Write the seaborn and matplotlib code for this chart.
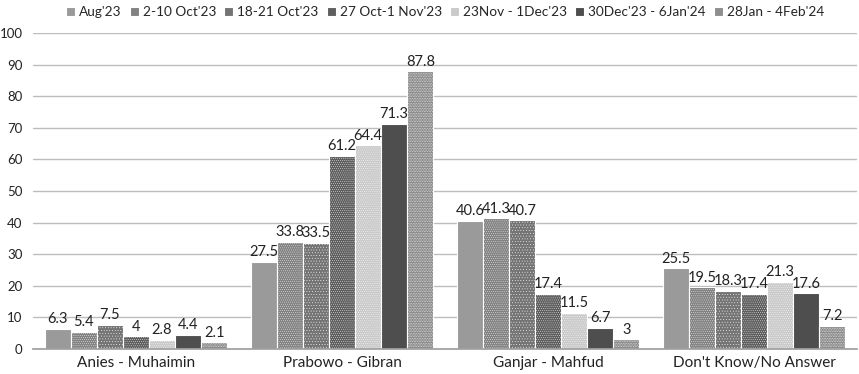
import matplotlib
matplotlib.use("Agg")
import matplotlib.pyplot as plt
import seaborn as sns
import pandas as pd

categories = ["Anies - Muhaimin", "Prabowo - Gibran", "Ganjar - Mahfud", "Don't Know/No Answer"]
periods = ["Aug'23", "2-10 Oct'23", "18-21 Oct'23", "27 Oct-1 Nov'23",
           "23Nov - 1Dec'23", "30Dec'23 - 6Jan'24", "28Jan - 4Feb'24"]
aug23 = [6.3, 27.5, 40.6, 25.5]
oct2_10 = [5.4, 33.8, 41.3, 19.5]
oct18_21 = [7.5, 33.5, 40.7, 18.3]
oct27_nov1 = [4, 61.2, 17.4, 17.4]
nov23_dec1 = [2.8, 64.4, 11.5, 21.3]
dec30_jan6 = [4.4, 71.3, 6.7, 17.6]
jan28_feb4 = [2.1, 87.8, 3, 7.2]
series = [aug23, oct2_10, oct18_21, oct27_nov1, nov23_dec1, dec30_jan6, jan28_feb4]

colors = ["#9a9a9a", "#828282", "#747474", "#5e5e5e", "#cacaca", "#4e4e4e", "#8e8e8e"]
hatches = [None, "........", "......", "........", "........", None, ".........."]

rows = []
for p, vals in zip(periods, series):
    for c, v in zip(categories, vals):
        rows.append({"Candidate": c, "Period": p, "Value": v})
df = pd.DataFrame(rows)

sns.set_theme(style="white")
plt.rcParams["font.family"] = ["Lato", "DejaVu Sans"]
plt.rcParams["hatch.linewidth"] = 0.25

fig, ax = plt.subplots(figsize=(8.59, 3.74), dpi=100)
fig.subplots_adjust(left=0.0384, right=0.998, top=0.912, bottom=0.067)

sns.barplot(data=df, x="Candidate", y="Value", hue="Period", order=categories,
            hue_order=periods, palette=colors, width=0.885, ax=ax,
            edgecolor="white", linewidth=0.8, saturation=1)

for cont, h in zip(ax.containers, hatches):
    for bar in cont:
        if h:
            bar.set_hatch(h)
    ax.bar_label(cont, labels=[f"{v:g}" for v in cont.datavalues],
                 padding=2, fontsize=10.5, color="#222222")

ax.set_ylim(0, 100)
ax.set_yticks(range(0, 101, 10))
ax.yaxis.grid(True, color="#bdbdbd", linewidth=1)
ax.set_axisbelow(True)
for s in ["top", "right", "left"]:
    ax.spines[s].set_visible(False)
ax.spines["bottom"].set_color("#a0a0a0")
ax.set_xlabel("")
ax.set_ylabel("")
ax.tick_params(axis="both", length=0, colors="#222222")
ax.tick_params(axis="x", labelsize=11, pad=5)
ax.tick_params(axis="y", labelsize=9.5, pad=7.5)

handles, labels = ax.get_legend_handles_labels()
ax.legend(handles, labels, loc="lower center", bbox_to_anchor=(0.5, 1.03),
          ncol=7, frameon=False, fontsize=9.8, handlelength=0.65, handleheight=0.65,
          handletextpad=0.3, columnspacing=0.6, borderaxespad=0)

fig.savefig("out.png", dpi=100)
